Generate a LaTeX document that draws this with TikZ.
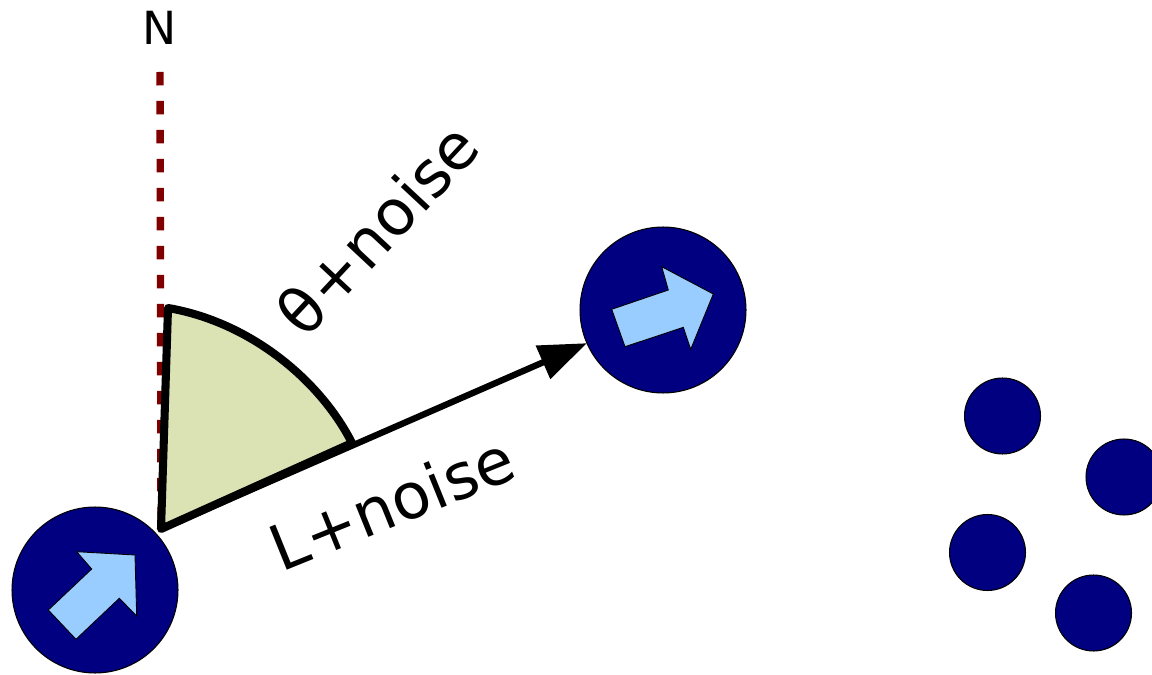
\documentclass[tikz,border=0pt]{standalone}
\usepackage{fontspec}
\setmainfont{DejaVu Sans}
\usetikzlibrary{arrows.meta}
\definecolor{robot}{HTML}{000080}
\definecolor{heading}{HTML}{99CCFF}
\definecolor{sector}{HTML}{DBE3B5}
\definecolor{north}{HTML}{800000}

\begin{document}
\begin{tikzpicture}[x=0.02cm,y=-0.02cm,
  robotdot/.style={circle,draw=black,line width=0.6pt,fill=robot,inner sep=0pt,outer sep=0pt},
  bigrobot/.style={robotdot,minimum size=3.32cm},
  smallrobot/.style={robotdot,minimum size=1.52cm},
  headingarrow/.style={fill=heading,draw=black,line width=0.5pt,line join=miter},
  northline/.style={draw=north,line width=4.2pt,dash pattern=on 0.27cm off 0.31cm},
  sectorfill/.style={fill=sector,draw=black,line width=4.6pt,line join=round},
  measure/.style={draw=black,line width=3.6pt,-{Triangle[length=0.96cm,width=0.7cm]}},
  labeltext/.style={font=\fontsize{36}{40}\selectfont,inner sep=0pt},
  northtext/.style={font=\fontsize{26}{30}\selectfont,inner sep=0pt},
]
\useasboundingbox (0,0) rectangle (1152,675);

% robots
\node[bigrobot] (r1) at (95,590) {};
\node[bigrobot] (r2) at (663,310) {};
\node[smallrobot] (s1) at (1002.5,416) {};
\node[smallrobot] (s2) at (1124,477) {};
\node[smallrobot] (s3) at (987.5,552.5) {};
\node[smallrobot] (s4) at (1093.5,613) {};

% heading arrows inside the large robots
\draw[headingarrow] (48.3,610) -- (91.7,569) -- (76.7,551.7) -- (135,555)
  -- (136.7,616) -- (119.3,598.3) -- (76,639.3) -- cycle;
\draw[headingarrow] (611.7,309.3) -- (668.3,290) -- (661.7,266.7) -- (713.3,294)
  -- (690.7,349.3) -- (683.3,327.3) -- (625,346.7) -- cycle;

% north reference
\node[northtext] (N) at (160,28) {N};
\coordinate (ntop) at (160,72);
\coordinate (apex) at (161,529);
\draw[northline] (ntop) -- (apex);

% bearing sector
\coordinate (stop) at (168,308);
\coordinate (send) at (352,443);
\draw[sectorfill] (apex) -- (stop) .. controls (250,322) and (320,380) .. (send) -- cycle;

% measured displacement
\draw[measure] (apex) -- (r2);

% labels
\node[labeltext,rotate=47] (theta) at (377,229) {θ+noise};
\node[labeltext,rotate=22] (len) at (392,503) {L+noise};
\end{tikzpicture}
\end{document}
